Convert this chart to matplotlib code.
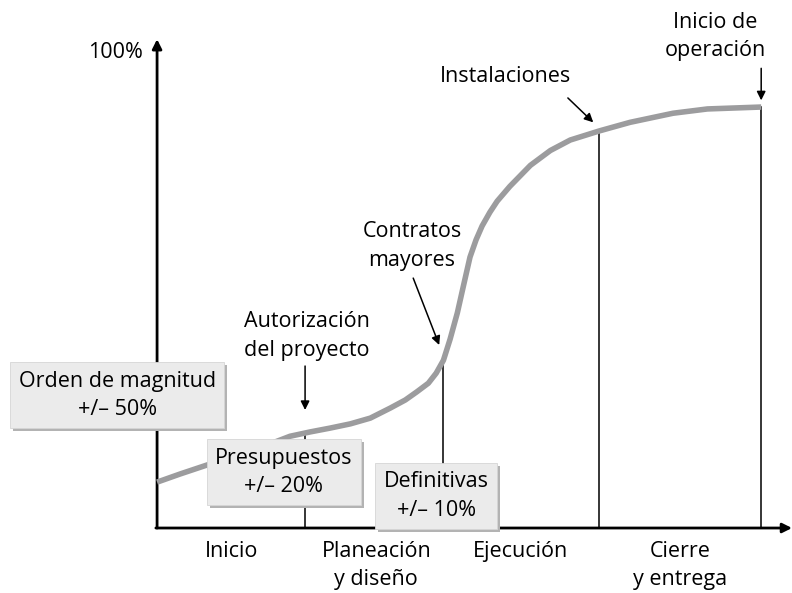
import matplotlib.pyplot as plt
from matplotlib.patches import Rectangle
import numpy as np

plt.rcParams['font.family'] = ['Open Sans', 'DejaVu Sans']

# curve: time (0-100) vs. cumulative %
t = [0, 3.8, 8.3, 12.1, 15.4, 18.7, 22.0, 25.3, 28.6, 32.0, 35.3, 38.6, 41.1,
     43.0, 44.9, 46.2, 47.4, 48.5, 49.7, 50.7, 51.8, 52.8, 53.8, 55.1, 56.3,
     58.4, 61.8, 65.1, 68.4, 73.2, 78.3, 85.4, 91.1, 100]
pct = [9.6, 11.3, 13.2, 14.6, 15.9, 17.6, 19.2, 20.1, 20.9, 21.8, 23.0, 25.1, 26.8,
       28.5, 30.3, 32.4, 35.1, 39.5, 45.0, 50.6, 56.7, 60.3, 63.2, 66.1, 68.4,
       71.5, 75.9, 79.0, 81.2, 83.1, 84.9, 86.8, 87.7, 88.1]

bounds = [24.5, 47.4, 73.2, 100]
phases = ['Inicio', 'Planeación\ny diseño', 'Ejecución', 'Cierre\ny entrega']
phase_x = [12.3, 36.3, 60.1, 86.6]

boxes = ['Orden de magnitud\n+/– 50%', 'Presupuestos\n+/– 20%', 'Definitivas\n+/– 10%']
box_xy = [(-6.6, 27.8), (21.0, 11.7), (46.2, 6.7)]

notes = ['Inicio de\noperación', 'Instalaciones', 'Contratos\nmayores',
         'Autorización\ndel proyecto']
note_xy = [(92.4, 102.9), (57.6, 94.4), (42.2, 59.0), (24.8, 40.2)]
arrow_from = [(100, 96.2), (68.0, 90.0), (42.4, 52.3), (24.5, 33.9)]
arrow_to = [(100, 89.5), (72.2, 84.9), (46.7, 38.3), (24.5, 24.7)]

FS = 15.5
LS = 1.45

fig = plt.figure(figsize=(7.92, 5.93), dpi=100)
ax = fig.add_axes([0, 0, 1, 1])
ax.set_xlim(-26, 105.1)
ax.set_ylim(-13.6, 110.5)
ax.set_autoscale_on(False)
ax.axis('off')

# axes with arrows
ax.annotate('', xy=(0, 102.3), xytext=(0, 0),
            arrowprops=dict(arrowstyle='-|>', color='black', lw=2, mutation_scale=14,
                            shrinkA=0, shrinkB=0))
ax.annotate('', xy=(105.1, 0), xytext=(-0.2, 0),
            arrowprops=dict(arrowstyle='-|>', color='black', lw=2, mutation_scale=14,
                            shrinkA=0, shrinkB=0))
ax.text(-2.3, 99.5, '100%', ha='right', va='center', fontsize=FS)

# phase boundaries
for b in bounds:
    ax.plot([b, b], [0, np.interp(b, t, pct)], color='black', lw=1.1, zorder=2)

ax.plot(t, pct, color='#9c9c9e', lw=4, solid_capstyle='butt',
        solid_joinstyle='round', zorder=3)

for lab, x in zip(phases, phase_x):
    ax.text(x, -2.7, lab, ha='center', va='top', fontsize=FS, linespacing=LS)

for lab, (x, y), a0, a1 in zip(notes, note_xy, arrow_from, arrow_to):
    ax.text(x, y, lab, ha='center', va='center', fontsize=FS, linespacing=LS)
    ax.annotate('', xy=a1, xytext=a0,
                arrowprops=dict(arrowstyle='-|>', color='black', lw=1.1,
                                mutation_scale=13, shrinkA=0, shrinkB=0), zorder=4)

# grey boxes with a drop shadow
labels = []
for lab, (x, y) in zip(boxes, box_xy):
    labels.append(ax.text(x, y, lab, ha='center', va='center', fontsize=FS,
                          linespacing=LS, zorder=6,
                          bbox=dict(boxstyle='square,pad=0.4', fc='#ebebeb',
                                    ec='#d6d6d6', lw=0.6)))
fig.canvas.draw()
inv = ax.transData.inverted()
for txt in labels:
    bb = txt.get_bbox_patch().get_window_extent()
    (x0, y0), (x1, y1) = inv.transform([(bb.x0 + 3, bb.y0 - 3), (bb.x1 + 3, bb.y1 - 3)])
    ax.add_patch(Rectangle((x0, y0), x1 - x0, y1 - y0, fc='#b3b3b3', ec='none', zorder=5))

fig.savefig('out.png', dpi=100)
